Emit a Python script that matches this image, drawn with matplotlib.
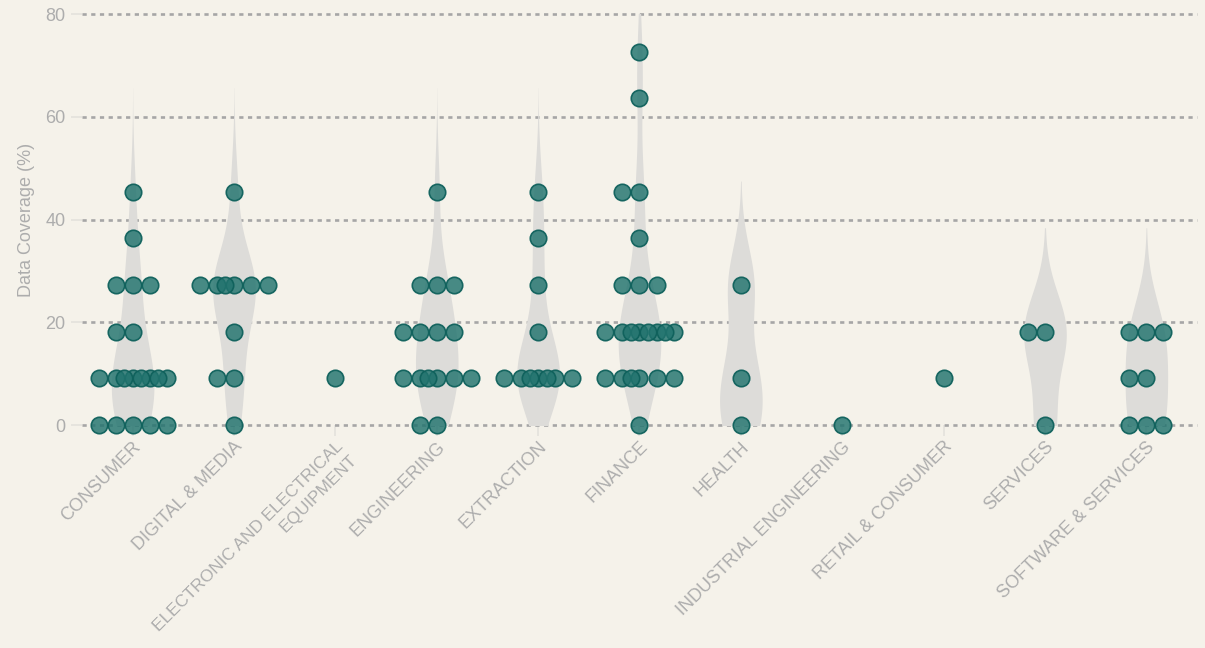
import numpy as np
import matplotlib
matplotlib.use("Agg")
from matplotlib import pyplot as plt

plt.rcParams['font.family'] = ['Liberation Sans', 'DejaVu Sans']

# data coverage (%) per company, grouped by sector
categories = ["CONSUMER", "DIGITAL & MEDIA", "ELECTRONIC AND ELECTRICAL\nEQUIPMENT",
              "ENGINEERING", "EXTRACTION", "FINANCE", "HEALTH",
              "INDUSTRIAL ENGINEERING", "RETAIL & CONSUMER", "SERVICES",
              "SOFTWARE & SERVICES"]

consumer = [45.45, 36.36, 27.27, 27.27, 27.27, 18.18, 18.18,
            9.09, 9.09, 9.09, 9.09, 9.09, 9.09, 9.09, 9.09,
            0, 0, 0, 0, 0]
digital_media = [45.45, 27.27, 27.27, 27.27, 27.27, 27.27, 27.27,
                 18.18, 9.09, 9.09, 0]
electronic = [9.09]
engineering = [45.45, 27.27, 27.27, 27.27, 18.18, 18.18, 18.18, 18.18,
               9.09, 9.09, 9.09, 9.09, 9.09, 9.09, 0, 0]
extraction = [45.45, 36.36, 27.27, 18.18,
              9.09, 9.09, 9.09, 9.09, 9.09, 9.09, 9.09]
finance = [72.73, 63.64, 45.45, 45.45, 36.36, 27.27, 27.27, 27.27,
           18.18, 18.18, 18.18, 18.18, 18.18, 18.18, 18.18, 18.18,
           9.09, 9.09, 9.09, 9.09, 9.09, 9.09, 0]
health = [27.27, 9.09, 0]
industrial = [0]
retail = [9.09]
services = [18.18, 18.18, 0]
software = [18.18, 18.18, 18.18, 9.09, 9.09, 0, 0, 0]

groups = [consumer, digital_media, electronic, engineering, extraction, finance,
          health, industrial, retail, services, software]

BG = "#f5f2ea"
GRID = "#a6a6a6"
TEXT = "#adadad"
VIOLIN = "#dddcd9"
DOT_FACE = (0.13, 0.45, 0.43, 0.82)
DOT_EDGE = (0.06, 0.38, 0.36, 0.95)

BW = 7.5          # kde bandwidth
CUT = 2.7         # tails reach CUT * BW beyond the data
VWIDTH = 0.42     # full width of the widest part of each violin
STEP = 0.168      # dot diameter in x data units
SLOTS = [0, -1, 1, -2, 2, -0.5, 0.5, 1.5, -1.5]


def kde(values, grid, bw):
    v = np.asarray(values, dtype=float)[:, None]
    return np.exp(-0.5 * ((grid[None, :] - v) / bw) ** 2).sum(axis=0)


fig = plt.figure(figsize=(12.05, 6.48), dpi=100, facecolor=BG)
ax = fig.add_axes([0.068, 0.344, 0.9254, 0.634])
ax.set_facecolor(BG)

for i, vals in enumerate(groups):
    if len(set(vals)) > 1:
        grid = np.linspace(min(vals) - CUT * BW, max(vals) + CUT * BW, 400)
        dens = kde(vals, grid, BW)
        half = dens / dens.max() * VWIDTH / 2
        ax.fill_betweenx(grid, i - half, i + half, color=VIOLIN, lw=0, zorder=2)

    xs, ys = [], []
    for v in sorted(set(vals), reverse=True):
        n = vals.count(v)
        for k in range(n):
            xs.append(i + SLOTS[k] * STEP)
            ys.append(v)
    ax.scatter(xs, ys, s=140, facecolor=DOT_FACE, edgecolor=DOT_EDGE,
               linewidth=1.2, zorder=3, clip_on=False)

ax.set_xlim(-0.5, len(categories) - 0.5)
ax.set_ylim(0, 80)
ax.set_yticks([0, 20, 40, 60, 80])
ax.set_xticks(range(len(categories)))
labels = ax.set_xticklabels(categories, rotation=45, ha="right", va="top",
                            rotation_mode="anchor")

for s in ax.spines.values():
    s.set_visible(False)
ax.yaxis.grid(True, color=GRID, linewidth=1.9, linestyle=(0, (1.6, 1.7)), zorder=1)
for gl in ax.yaxis.get_gridlines():
    gl.set_clip_on(False)
ax.set_axisbelow(True)
ax.tick_params(axis="both", colors="#e4e2dc", labelcolor=TEXT, labelsize=13,
               length=8, width=1.2)
ax.tick_params(axis="x", pad=1.5)
ax.tick_params(axis="y", pad=4)
labels[2].set_fontsize(12.4)
labels[2].set_linespacing(1.35)
ax.set_ylabel("Data Coverage (%)", color=TEXT, fontsize=13, labelpad=7)

fig.savefig("out.png", dpi=100, facecolor=BG)
